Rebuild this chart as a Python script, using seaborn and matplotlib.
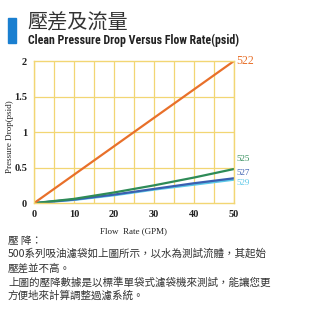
import matplotlib
matplotlib.use("Agg")
import matplotlib.pyplot as plt
import seaborn as sns
import pandas as pd

# Pressure drop vs flow rate for the 500 series bags
flow = [0, 10, 20, 30, 40, 50]
drop_522 = [0, 0.4, 0.8, 1.2, 1.6, 2.0]
drop_525 = [0, 0.06, 0.15, 0.25, 0.36, 0.48]
drop_527 = [0, 0.05, 0.12, 0.20, 0.28, 0.35]
drop_529 = [0, 0.045, 0.11, 0.19, 0.26, 0.33]

series = ["522", "525", "527", "529"]
colors = ["#e8702a", "#2e8b57", "#3a5fb0", "#5bc8e8"]
label_y = [2.0, 0.62, 0.43, 0.29]

x_ticks = [0, 10, 20, 30, 40, 50]
y_ticks = [0, 0.5, 1, 1.5, 2]
y_tick_labels = ["0", "0.5", "1", "1.5", "2"]

notes = [
    "壓 降：",
    "500系列吸油濾袋如上圖所示，以水為測試流體，其起始",
    "壓差並不高。",
    "上圖的壓降數據是以標準單袋式濾袋機來測試，能讓您更",
    "方便地來計算調整過濾系統。",
]

sns.set_theme(style="white")
plt.rcParams['font.family'] = ['Noto Sans CJK TC', 'DejaVu Sans']

df = pd.DataFrame({"flow": flow * 4,
                   "drop": drop_522 + drop_525 + drop_527 + drop_529,
                   "bag": sum([[s] * len(flow) for s in series], [])})

fig = plt.figure(figsize=(3.24, 3.13), dpi=100)
ax = fig.add_axes([0.105, 0.351, 0.617, 0.454])

grid_col = "#f2d673"
for v in range(0, 51, 5):
    ax.axvline(v, color=grid_col, lw=0.9, zorder=0)
for v in [0.5, 1.0, 1.5]:
    ax.axhline(v, color=grid_col, lw=0.9, zorder=0)

sns.lineplot(data=df, x="flow", y="drop", hue="bag", hue_order=series[::-1],
             palette=dict(zip(series, colors)), lw=1.6, ax=ax, legend=False)

ax.set_xlim(0, 50)
ax.set_ylim(0, 2)
for s in ax.spines.values():
    s.set_color(grid_col)
    s.set_linewidth(1.0)

serif = ['Liberation Serif', 'DejaVu Serif']
ax.set_xticks(x_ticks)
ax.set_yticks(y_ticks)
ax.set_xticklabels([str(t) for t in x_ticks], family=serif, fontsize=7.5, weight='bold', color='#222222')
ax.set_yticklabels(y_tick_labels, family=serif, fontsize=7.5, weight='bold', color='#222222')
ax.tick_params(length=0, pad=5)
ax.set_xlabel("Flow  Rate (GPM)", family=serif, fontsize=6.5, color='#222222', labelpad=6)
ax.set_ylabel("Pressure Drop(psid)", family=serif, fontsize=6.5, color='#222222')
ax.yaxis.set_label_coords(-0.1, 0.47)

for s, c, yv in zip(series, colors, label_y):
    ax.text(50.6, yv, s, color=c, family=serif, fontsize=8.5 if s == "522" else 6.5,
            va='center', ha='left', clip_on=False)

# header
fig.patches.append(plt.Rectangle((8 / 324, 1 - 43 / 313), 8 / 324, 25 / 313,
                                 transform=fig.transFigure, color="#1a7fd0"))
fig.text(27 / 324, 1 - 23 / 313, "壓差及流量", fontsize=14.5, color="#333333", va='center')
fig.text(28 / 324, 1 - 40 / 313, "Clean Pressure Drop Versus Flow Rate(psid)",
         fontsize=8.6, weight='bold', color="#222222", va='center',
         family=['Roboto Condensed', 'Roboto', 'DejaVu Sans'])

ys = [241, 254, 268, 282, 296]
for t, yp in zip(notes, ys):
    fig.text(8 / 324, 1 - yp / 313, t, fontsize=7.6, color="#333333", va='center')

fig.savefig("out.png", dpi=100)
